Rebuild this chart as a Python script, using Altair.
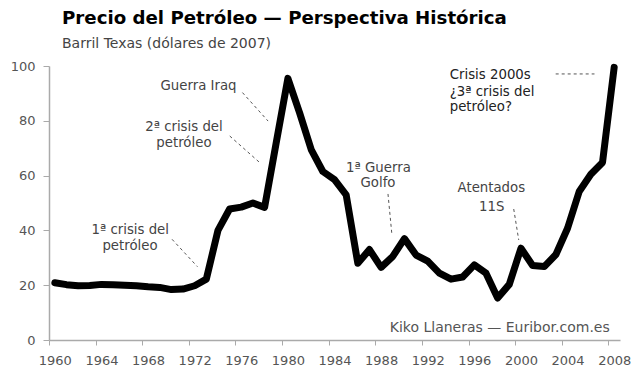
import altair as alt
import pandas as pd

years = list(range(1960, 2009))
prices = [20.9, 20.2, 19.8, 19.9, 20.3, 20.2, 20.0, 19.8, 19.4, 19.2,
          18.4, 18.6, 19.8, 22.2, 40.0, 47.8, 48.5, 50.0, 48.4, 72.0,
          95.5, 83.0, 69.5, 61.5, 58.5, 53.0, 28.0, 33.0, 26.5, 30.5,
          37.0, 31.0, 28.8, 24.4, 22.2, 23.0, 27.4, 24.4, 15.3, 20.3,
          33.5, 27.2, 26.8, 31.2, 40.8, 54.2, 60.5, 64.8, 99.5]

# annotation text lines (x in years, y in dollars)
note_text = ["1ª crisis del", "petróleo",
             "2ª crisis del", "petróleo",
             "Guerra Iraq",
             "1ª Guerra", "Golfo",
             "Atentados", "11S"]
note_x = [1966.47, 1966.45, 1971.08, 1971.08, 1972.33, 1987.77, 1987.73, 1997.46, 1997.49]
note_y = [40.1, 34.4, 77.6, 71.8, 92.7, 62.7, 57.2, 55.4, 48.6]

crisis_text = ["Crisis 2000s", "¿3ª crisis del", "petróleo?"]
crisis_x = [1993.89, 1993.89, 1993.89]
crisis_y = [96.7, 90.6, 84.9]

credit_text = ["Kiko Llaneras — Euribor.com.es"]
credit_x = [2007.62]
credit_y = [4.5]

# dashed leader lines
lead_x = [1970.06, 1975.01, 1976.10, 1988.59, 1999.38, 2002.98]
lead_x2 = [1972.24, 1977.65, 1978.30, 1988.93, 1999.81, 2006.31]
lead_y = [36.75, 74.45, 90.3, 53.3, 47.8, 97.1]
lead_y2 = [26.75, 64.5, 79.9, 38.3, 36.5, 97.1]

tick_values = [1959.5 + i for i in range(50)]

W, H = 571, 274
band = W / 49.0

df = pd.DataFrame({"year": years, "price": prices})
notes = pd.DataFrame({"x": note_x, "y": note_y, "t": note_text})
crisis = pd.DataFrame({"x": crisis_x, "y": crisis_y, "t": crisis_text})
credit = pd.DataFrame({"x": credit_x, "y": credit_y, "t": credit_text})
leads = pd.DataFrame({"x": lead_x, "x2": lead_x2, "y": lead_y, "y2": lead_y2})

xscale = alt.Scale(domain=[1959.5, 2008.5], nice=False, zero=False)
yscale = alt.Scale(domain=[0, 100], nice=False)

FONT = "DejaVu Sans"

xaxis = alt.Axis(values=tick_values, title=None, grid=False,
                 labelExpr="((datum.value + 0.5) % 4 == 0) ? toString(datum.value + 0.5) : ''",
                 labelOffset=band / 2, labelOverlap=False, labelFlush=False, labelBound=False,
                 tickSize=5, labelPadding=9)
yaxis = alt.Axis(values=[0, 20, 40, 60, 80, 100], title=None, grid=False,
                 tickSize=6, labelPadding=8)

line = alt.Chart(df).mark_line(color="black", strokeWidth=7, strokeJoin="round",
                               strokeCap="round").encode(
    x=alt.X("year:Q", scale=xscale, axis=xaxis),
    y=alt.Y("price:Q", scale=yscale, axis=yaxis),
)

rules = alt.Chart(leads).mark_rule(color="#555", strokeWidth=1, strokeDash=[3, 3]).encode(
    x="x:Q", x2="x2:Q", y="y:Q", y2="y2:Q")

note_layer = alt.Chart(notes).mark_text(font=FONT, fontSize=13.3, color="#444",
                                        align="center", baseline="middle").encode(
    x="x:Q", y="y:Q", text="t:N")

crisis_layer = alt.Chart(crisis).mark_text(font=FONT, fontSize=13.3, color="#222",
                                           align="left", baseline="middle").encode(
    x="x:Q", y="y:Q", text="t:N")

credit_layer = alt.Chart(credit).mark_text(font=FONT, fontSize=14, color="#555",
                                           align="right", baseline="middle").encode(
    x="x:Q", y="y:Q", text="t:N")

chart = alt.layer(rules, line, note_layer, crisis_layer, credit_layer).properties(
    width=W, height=H,
    title=alt.TitleParams(
        text="Precio del Petróleo — Perspectiva Histórica",
        subtitle="Barril Texas (dólares de 2007)",
        anchor="start", frame="group", dx=13, offset=8,
        font=FONT, fontSize=18.2, fontWeight="bold", color="#000",
        subtitleFont=FONT, subtitleFontSize=14, subtitleColor="#444",
        subtitlePadding=9),
    autosize=alt.AutoSizeParams(type="none"),
    padding={"left": 41, "top": 58, "right": 12, "bottom": 34},
).configure_view(stroke=None).configure_axis(
    domainColor="#aaa", tickColor="#aaa", domainWidth=1.5, tickWidth=1,
    labelColor="#555", labelFont=FONT, labelFontSize=13,
)

chart.save("out.html", embed_options={"renderer": "svg", "actions": False})
